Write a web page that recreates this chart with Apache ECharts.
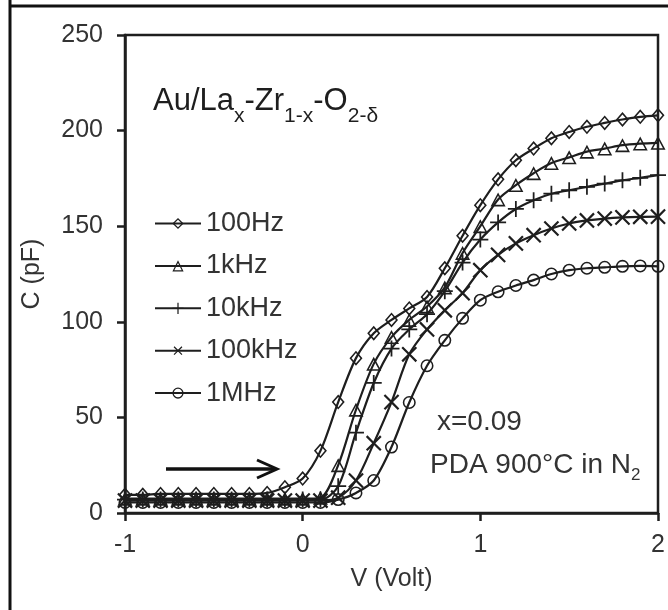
<!DOCTYPE html>
<html>
<head>
<meta charset="utf-8">
<script src="https://cdn.jsdelivr.net/npm/echarts@6/dist/echarts.min.js"></script>
<style>
  html, body { margin: 0; padding: 0; background: #fff; }
  #chart { width: 668px; height: 610px; }
</style>
</head>
<body>
<div id="chart"></div>
<script>
// bias voltage (V), step 0.1
const volts = [-1, -0.9, -0.8, -0.7, -0.6, -0.5, -0.4, -0.3, -0.2, -0.1,
  0, 0.1, 0.2, 0.3, 0.4, 0.5, 0.6, 0.7, 0.8, 0.9,
  1, 1.1, 1.2, 1.3, 1.4, 1.5, 1.6, 1.7, 1.8, 1.9, 2]

// capacitance (pF)
const c100Hz = [9.5, 9.5, 10, 10, 10, 10, 10, 10, 10.5, 13.5,
  18, 32.5, 58, 81, 94, 101, 107, 113, 128, 145,
  161, 174.5, 184.5, 190.6, 196, 199.3, 202, 204, 205.8, 207.2, 208]
const c1kHz = [7.5, 7.5, 7.5, 7.5, 7.5, 7.5, 7.5, 7.5, 7.5, 7.5,
  7.5, 8, 25, 54, 78, 92, 101, 108, 118, 136,
  150, 164, 171.5, 177.7, 183, 186, 189, 190.6, 192.4, 193.2, 193.6]
const c10kHz = [7, 7, 7, 7, 7, 7, 7, 7, 7, 7,
  7, 7, 14, 42, 68, 86, 96, 104, 116, 131,
  143, 152, 159, 163.6, 167, 168.8, 170.6, 172.3, 174, 175.3, 176.7]
const c100kHz = [6.5, 6.5, 6.5, 6.5, 6.5, 6.5, 6.5, 6.5, 6.5, 6.5,
  6.5, 6.5, 8, 17, 36.5, 58, 83, 96, 106, 115,
  127, 135, 141, 145.3, 148.8, 151.4, 153, 154, 154.6, 154.9, 155]
const c1MHz = [5.5, 5.5, 5.5, 5.5, 5.5, 5.5, 5.5, 5.5, 5.5, 5.5,
  5.5, 5.5, 7, 10.5, 17, 34.5, 57.8, 77, 90.3, 101.8,
  111.3, 115.7, 119, 121.8, 125, 127, 128, 128.5, 129, 129.2, 129]

const seriesNames = ['100Hz', '1kHz', '10kHz', '100kHz', '1MHz']
const xTicks = [-1, 0, 1, 2]
const yTicks = [0, 50, 100, 150, 200, 250]

const font = 'Liberation Sans, Arial, sans-serif'
const ink = '#1e1e1e'

// hollow marker shapes (outer and inner ring wound opposite ways)
const diamond = 'path://M10,0L20,10L10,20L0,10Z M10,3.2L3.2,10L10,16.8L16.8,10Z'
const triangle = 'path://M10,1L20,19L0,19Z M10,5.2L3.4,16.9L16.6,16.9Z'
const plus = 'path://M8.9,0h2.2v8.9h8.9v2.2h-8.9v8.9h-2.2v-8.9h-8.9v-2.2h8.9z'
const ring = 'path://M10,0A10,10,0,1,1,10,20A10,10,0,1,1,10,0Z M10,2.4A7.6,7.6,0,1,0,10,17.6A7.6,7.6,0,1,0,10,2.4Z'

const allData = [c100Hz, c1kHz, c10kHz, c100kHz, c1MHz]
const marks = [
  { symbol: diamond, size: [13, 15], rotate: 0 },
  { symbol: triangle, size: [15, 14], rotate: 0 },
  { symbol: plus, size: 16, rotate: 0 },
  { symbol: plus, size: 20, rotate: 45 },
  { symbol: ring, size: 13, rotate: 0 }
]

const chart = echarts.init(document.getElementById('chart'))

chart.setOption({
  animation: false,
  textStyle: { fontFamily: font },
  grid: {
    left: 125, right: 10, top: 35, bottom: 97,
    show: true, borderColor: ink, borderWidth: 2.5
  },
  legend: {
    orient: 'vertical',
    left: 154, top: 210, padding: 0,
    itemWidth: 46, itemHeight: 14, itemGap: 15.4,
    data: seriesNames,
    textStyle: { fontSize: 27, color: '#333', fontFamily: font }
  },
  xAxis: {
    type: 'value',
    min: xTicks[0], max: xTicks[xTicks.length - 1], interval: 1,
    name: 'V (Volt)', nameLocation: 'middle', nameGap: 54,
    nameTextStyle: { fontSize: 25, color: '#333', fontFamily: font },
    axisLine: { onZero: false, lineStyle: { color: ink, width: 2.5 } },
    axisTick: { length: 8, lineStyle: { color: ink, width: 2.5 } },
    axisLabel: { fontSize: 25, color: '#333', margin: 20, fontFamily: font },
    splitLine: { show: false }
  },
  yAxis: {
    type: 'value',
    min: yTicks[0], max: yTicks[yTicks.length - 1], interval: 50,
    name: 'C (pF)', nameLocation: 'middle', nameGap: 80,
    nameTextStyle: { fontSize: 25, color: '#333', fontFamily: font },
    axisLine: { onZero: false, lineStyle: { color: ink, width: 2.5 } },
    axisTick: { length: 8, lineStyle: { color: ink, width: 2.5 } },
    axisLabel: { fontSize: 25, color: '#333', margin: 22, fontFamily: font },
    splitLine: { show: false }
  },
  series: seriesNames.map((name, i) => ({
    name: name,
    type: 'line',
    smooth: 0.3,
    symbol: marks[i].symbol,
    symbolSize: marks[i].size,
    symbolRotate: marks[i].rotate,
    showAllSymbol: true,
    lineStyle: { color: ink, width: 2.2 },
    itemStyle: { color: ink },
    data: volts.map((v, k) => [v, allData[i][k]])
  })),
  graphic: [
    // outer frame of the figure
    { type: 'line', shape: { x1: 10, y1: 0, x2: 10, y2: 610 }, style: { stroke: '#111', lineWidth: 3 } },
    { type: 'line', shape: { x1: 10, y1: 6, x2: 668, y2: 6 }, style: { stroke: '#111', lineWidth: 3 } },
    // sweep arrow
    { type: 'line', shape: { x1: 166, y1: 469, x2: 275, y2: 469 }, style: { stroke: '#111', lineWidth: 3.5 } },
    { type: 'polyline', shape: { points: [[257, 460], [277, 469], [257, 478]] }, style: { stroke: '#111', lineWidth: 3, fill: null } },
    {
      type: 'text', x: 153, y: 73,
      style: {
        text: 'Au/La{s|x}-Zr{s|1-x}-O{s|2-δ}',
        font: '31px ' + font, fill: ink, lineHeight: 56, verticalAlign: 'top',
        rich: { s: { fontSize: 21, fontFamily: font, fill: ink, verticalAlign: 'top', padding: [33, 0, 0, 0] } }
      }
    },
    {
      type: 'text', x: 437, y: 422,
      style: { text: 'x=0.09', font: '28px ' + font, fill: '#333', verticalAlign: 'middle' }
    },
    {
      type: 'text', x: 430, y: 445,
      style: {
        text: 'PDA 900°C in N{s|2}',
        font: '28px ' + font, fill: '#333', lineHeight: 40, verticalAlign: 'top',
        rich: { s: { fontSize: 17, fontFamily: font, fill: '#333', verticalAlign: 'top', padding: [22, 0, 0, 0] } }
      }
    }
  ]
})
</script>
</body>
</html>
